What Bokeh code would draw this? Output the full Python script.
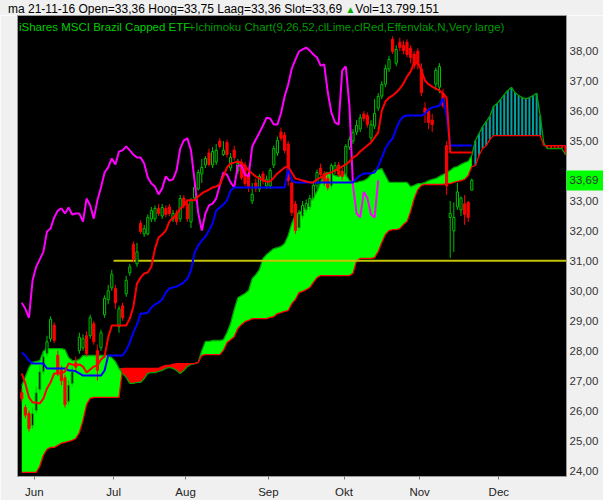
from bokeh.plotting import figure
from bokeh.models import Range1d, FixedTicker, Label, Div
from bokeh.layouts import column
from bokeh.embed import file_html
from bokeh.resources import INLINE

# ---------------- data ----------------
opens = [26.60, 26.10, 25.90, 25.50, 26.00, 26.70, 27.30, 27.90, 28.40, 28.85,
         27.85, 27.35, 27.10, 26.30, 26.90, 27.60, 28.00, 28.10, 28.50, 28.50,
         28.90, 28.00, 28.10, 29.20, 29.70, 30.10, 30.08, 28.80, 29.50, 29.90,
         30.60, 31.55, 30.90, 32.25, 31.90, 31.90, 32.40, 32.40, 32.75, 32.50,
         32.75, 32.80, 32.40, 32.60, 32.40, 33.10, 32.90, 32.30, 33.10, 33.40,
         33.90, 34.20, 34.60, 34.20, 34.30, 35.00, 34.55, 34.95, 34.10, 34.70,
         34.00, 34.30, 34.20, 33.90, 33.00, 33.60, 33.40, 33.90, 33.50, 33.50,
         34.20, 34.60, 35.30, 35.20, 34.90, 33.60, 32.90, 32.10, 32.50, 32.70,
         32.80, 33.10, 33.50, 34.10, 33.90, 33.75, 33.50, 34.00, 34.20, 34.00,
         33.90, 34.80, 35.00, 35.30, 35.40, 35.90, 35.85, 35.10, 35.50, 36.10,
         36.50, 36.90, 37.40, 38.40, 37.60, 38.30, 38.20, 38.30, 38.10, 37.90,
         38.00, 37.40, 36.10, 36.00, 35.70, 36.90, 36.80, 36.60, 34.85, 32.45,
         32.00, 32.80, 32.70, 32.90, 32.95, 33.36]
highs = [26.75, 26.20, 26.00, 26.10, 26.80, 27.50, 28.00, 28.50, 29.15, 28.95,
         28.00, 27.50, 27.20, 27.00, 27.45, 27.80, 28.60, 28.55, 28.65, 29.20,
         29.00, 28.20, 28.70, 29.85, 30.20, 30.70, 30.20, 29.50, 29.60, 30.50,
         30.90, 31.65, 31.60, 32.35, 32.20, 32.55, 32.80, 32.85, 32.90, 32.90,
         32.85, 32.90, 32.70, 32.70, 33.20, 33.20, 33.00, 33.10, 33.55, 34.05,
         34.40, 34.50, 34.75, 34.80, 34.90, 35.10, 35.00, 35.05, 34.60, 34.85,
         34.40, 34.40, 34.30, 34.00, 33.60, 33.75, 33.90, 34.00, 33.85, 34.10,
         34.85, 35.15, 35.45, 35.30, 35.00, 33.75, 33.00, 32.70, 33.00, 33.05,
         33.20, 33.60, 34.05, 34.25, 34.00, 33.85, 34.25, 34.30, 34.30, 34.10,
         34.90, 35.15, 35.40, 35.70, 35.90, 36.00, 35.95, 35.70, 36.40, 36.60,
         37.00, 37.55, 37.85, 38.50, 38.20, 38.45, 38.35, 38.40, 38.20, 38.00,
         38.10, 37.60, 36.30, 36.10, 35.90, 37.45, 37.60, 36.75, 35.00, 33.00,
         32.95, 33.60, 33.15, 33.20, 33.00, 33.75]
lows = [26.30, 25.75, 25.30, 25.40, 25.90, 26.60, 27.20, 27.80, 28.30, 28.25,
        27.15, 26.85, 26.10, 26.20, 26.80, 27.30, 27.90, 28.00, 27.80, 28.40,
        28.20, 27.00, 28.00, 29.10, 29.55, 30.00, 29.40, 28.60, 29.00, 29.80,
        30.50, 30.95, 30.80, 31.90, 31.80, 31.85, 32.30, 32.30, 32.50, 32.40,
        32.45, 32.50, 32.30, 32.20, 32.30, 32.75, 32.30, 32.10, 33.00, 33.35,
        33.60, 34.10, 34.15, 34.10, 34.20, 34.75, 34.50, 34.45, 34.00, 34.35,
        33.90, 33.70, 33.50, 33.30, 32.90, 33.30, 33.30, 33.55, 33.40, 33.40,
        34.10, 34.50, 35.00, 34.60, 33.50, 32.50, 31.90, 32.00, 32.40, 32.60,
        32.70, 33.00, 33.40, 33.80, 33.50, 33.35, 33.40, 33.90, 33.80, 33.70,
        33.80, 34.70, 34.90, 35.20, 35.30, 35.65, 35.45, 35.00, 35.40, 36.00,
        36.40, 36.80, 37.30, 37.90, 37.50, 38.00, 37.90, 37.80, 37.60, 37.40,
        37.40, 36.50, 35.60, 35.40, 35.30, 36.70, 36.60, 36.10, 33.20, 31.10,
        31.30, 32.70, 32.50, 32.20, 32.30, 33.36]
closes = [26.40, 25.85, 25.40, 25.90, 26.60, 27.30, 27.80, 28.30, 29.05, 28.35,
          27.25, 27.00, 26.20, 26.85, 27.30, 27.45, 28.45, 28.40, 27.90, 29.10,
          28.30, 27.35, 28.60, 29.75, 30.00, 30.55, 29.60, 29.40, 29.10, 30.35,
          30.80, 31.05, 31.30, 31.98, 32.08, 32.45, 32.68, 32.75, 32.58, 32.78,
          32.55, 32.58, 32.58, 32.31, 33.08, 32.85, 32.41, 33.02, 33.45, 33.95,
          34.12, 34.42, 34.22, 34.65, 34.69, 34.82, 34.69, 34.55, 34.45, 34.45,
          34.25, 33.78, 33.58, 33.48, 33.22, 33.42, 33.82, 33.68, 33.72, 34.02,
          34.75, 35.02, 35.09, 34.69, 33.68, 32.61, 32.01, 32.58, 32.85, 32.91,
          33.08, 33.52, 33.95, 33.88, 33.62, 33.45, 34.18, 34.18, 33.88, 33.82,
          34.82, 35.05, 35.28, 35.52, 35.78, 35.75, 35.55, 35.55, 35.92, 36.49,
          36.89, 37.42, 37.72, 37.99, 38.06, 38.12, 38.02, 37.89, 37.79, 37.52,
          37.56, 36.62, 35.95, 35.62, 35.55, 37.36, 37.49, 36.19, 33.50, 32.58,
          32.45, 33.30, 33.10, 32.55, 32.45, 33.69]
tenkan = [27.24, 26.90, 26.44, 26.27, 26.27, 26.24, 26.40, 26.74, 26.94, 27.24,
          27.24, 27.24, 27.30, 27.57, 27.54, 27.51, 27.54, 27.47, 27.27, 27.37,
          27.47, 27.51, 27.71, 27.81, 28.44, 28.84, 28.84, 28.84, 28.84, 28.84,
          29.07, 29.47, 30.24, 30.44, 30.58, 30.61, 30.81, 31.41, 31.78, 31.88,
          32.01, 32.31, 32.44, 32.54, 32.75, 32.85, 33.02, 33.02, 33.02, 33.15,
          33.25, 33.32, 33.38, 33.45, 33.48, 33.55, 33.82, 34.12, 34.25, 34.28,
          34.32, 34.25, 34.15, 34.02, 33.92, 33.82, 33.75, 33.68, 33.65, 33.65,
          33.78, 33.92, 34.02, 34.12, 34.15, 33.95, 33.75, 33.72, 33.68, 33.65,
          33.62, 33.62, 33.72, 33.78, 33.85, 33.92, 33.95, 34.02, 34.08, 34.15,
          34.22, 34.32, 34.45, 34.52, 34.65, 34.75, 34.85, 34.95, 35.12, 35.28,
          36.02, 36.32, 36.45, 36.52, 36.62, 36.75, 36.92, 37.15, 37.32, 37.62,
          37.62, 37.36, 37.02, 36.89, 36.82, 36.75, 36.69, 36.59, 36.45, 34.62,
          34.62, 34.62, 34.62, 34.62, 34.62, 34.62]
kijun = [27.94, 27.84, 27.67, 27.57, 27.57, 27.57, 27.57, 27.41, 27.41, 27.41,
         27.41, 27.41, 27.41, 27.34, 27.34, 27.31, 27.24, 27.17, 27.17, 27.17,
         27.17, 27.17, 27.17, 27.34, 27.84, 27.84, 27.84, 27.84, 27.84, 28.01,
         28.27, 28.61, 28.87, 29.24, 29.24, 29.27, 29.44, 29.54, 29.61, 29.71,
         29.94, 30.08, 30.11, 30.14, 30.21, 30.28, 30.41, 30.68, 31.28, 31.51,
         31.68, 31.81, 32.01, 32.25, 32.68, 32.78, 32.88, 33.02, 33.35, 33.45,
         33.45, 33.45, 33.45, 33.45, 33.45, 33.45, 33.45, 33.45, 33.45, 33.45,
         33.45, 33.45, 33.45, 33.45, 34.08, 33.68, 33.62, 33.62, 33.62, 33.62,
         33.62, 33.62, 33.62, 33.62, 33.62, 33.62, 33.62, 33.62, 33.62, 33.62,
         33.62, 33.62, 33.62, 33.75, 33.85, 33.92, 33.92, 33.92, 33.95, 34.15,
         34.45, 34.75, 34.95, 35.08, 35.42, 35.68, 35.82, 35.85, 35.85, 35.85,
         35.85, 35.85, 35.92, 36.05, 36.12, 36.15, 36.18, 36.42, 35.85, 34.85,
         34.85, 34.85, 34.85, 34.85, 34.85, 34.85]
senkou_a = [26.84, 27.14, 27.44, 27.61, 27.64, 27.67, 27.97, 28.07, 28.07, 28.07,
            28.07, 28.07, 28.04, 27.77, 27.67, 27.67, 27.71, 27.84, 27.84, 27.84,
            27.84, 27.84, 27.84, 27.84, 27.84, 27.77, 27.64, 27.41, 27.24, 27.11,
            26.91, 26.91, 26.94, 26.94, 27.07, 27.24, 27.27, 27.27, 27.31, 27.34,
            27.41, 27.44, 27.41, 27.34, 27.24, 27.34, 27.47, 27.54, 27.57, 27.61,
            28.01, 28.31, 28.31, 28.34, 28.34, 28.34, 28.37, 28.61, 28.91, 29.37,
            29.77, 29.84, 29.91, 30.01, 30.41, 30.54, 30.71, 31.08, 31.21, 31.31,
            31.41, 31.44, 31.48, 31.58, 31.85, 32.25, 32.55, 32.61, 32.68, 32.81,
            32.98, 33.11, 33.32, 33.62, 33.92, 33.95, 33.92, 33.85, 33.82, 33.88,
            33.88, 33.68, 33.62, 33.62, 33.65, 33.68, 33.75, 33.88, 34.02, 34.05,
            34.08, 33.85, 33.62, 33.62, 33.62, 33.62, 33.62, 33.62, 33.48, 33.52,
            33.58, 33.58, 33.62, 33.68, 33.72, 33.75, 33.82, 33.88, 33.95, 34.02,
            34.12, 34.15, 34.22, 34.28, 34.32, 34.52, 35.02, 35.25, 35.48, 35.65,
            35.82, 36.15, 36.25, 36.39, 36.55, 36.69, 36.79, 36.62, 36.52, 36.45,
            36.42, 36.45, 36.52, 36.59, 35.85, 34.92, 34.75, 34.75, 34.75, 34.75,
            34.75, 34.55]
senkou_b = [23.94, 23.94, 23.94, 23.94, 23.94, 24.14, 24.51, 24.71, 24.77, 24.77,
            24.84, 24.91, 24.94, 24.97, 25.01, 25.07, 25.27, 25.67, 26.21, 26.41,
            26.44, 26.44, 26.44, 26.44, 26.44, 26.44, 26.44, 26.44, 27.41, 27.41,
            27.41, 27.41, 27.41, 27.41, 27.41, 27.41, 27.41, 27.41, 27.41, 27.47,
            27.51, 27.51, 27.54, 27.57, 27.57, 27.57, 27.57, 27.57, 27.57, 27.61,
            27.84, 27.87, 27.87, 27.87, 27.87, 27.87, 28.01, 28.27, 28.37, 28.47,
            28.74, 28.87, 28.97, 29.01, 29.07, 29.07, 29.07, 29.07, 29.07, 29.11,
            29.14, 29.24, 29.27, 29.31, 29.34, 29.57, 29.71, 29.94, 29.98, 30.04,
            30.11, 30.28, 30.44, 30.51, 30.51, 30.51, 30.51, 30.51, 30.51, 30.51,
            30.51, 30.51, 30.58, 31.01, 31.08, 31.08, 31.08, 31.08, 31.11, 31.31,
            31.61, 31.88, 32.01, 32.04, 32.04, 32.08, 32.21, 32.31, 32.65, 33.08,
            33.38, 33.52, 33.55, 33.55, 33.55, 33.55, 33.55, 33.55, 33.58, 33.58,
            33.62, 33.65, 33.68, 33.72, 33.85, 34.15, 34.18, 34.52, 34.75, 34.85,
            35.05, 35.18, 35.18, 35.18, 35.18, 35.18, 35.18, 35.18, 35.18, 35.18,
            35.18, 35.18, 35.18, 35.18, 35.18, 34.85, 34.85, 34.85, 34.85, 34.85,
            34.85, 34.85]
chikou_shift = 26
month_ticks = [3.5, 25.5, 45.5, 68.5, 89.5, 110.5, 132.5]
month_labels = ["Jun", "Jul", "Aug", "Sep", "Okt", "Nov", "Dec"]
price_ticks = [24, 25, 26, 27, 28, 29, 30, 31, 32, 33, 34, 35, 36, 37, 38]
hline_level = 31.0
hline_start = 25.5
last_price = 33.69
header_text = "ma 21-11-16 Open=33,36 Hoog=33,75 Laag=33,36 Slot=33,69"
header_vol = "Vol=13.799.151"
title_main = "iShares MSCI Brazil Capped ETF"
title_ind = "+Ichimoku Chart(9,26,52,clLime,clRed,Effenvlak,N,Very large)"

# ---------------- styling ----------------
FONT = "Liberation Sans"
FW, FH = 549, 461
X0, X1 = -1.19, 151.3
GREEN_UP = "#00c000"
RED = "#ff0000"
BOX_W = 38


def fmt(v):
    return ("%.2f" % v).replace(".", ",")


p = figure(frame_width=FW, frame_height=FH, x_range=Range1d(X0, X1),
           y_range=Range1d(23.80, 39.192), y_axis_location="right",
           output_backend="svg", toolbar_location=None, title=None,
           min_border_left=17, min_border_top=0, min_border_bottom=24,
           min_border_right=37, margin=0)
p.background_fill_color = "black"
p.border_fill_color = "#f0f0f0"
p.outline_line_color = "#9a9a9a"
p.xgrid.visible = False
p.ygrid.visible = False

p.xaxis.ticker = FixedTicker(ticks=month_ticks)
p.xaxis.major_label_overrides = {t: l for t, l in zip(month_ticks, month_labels)}
p.xaxis.axis_line_color = None
p.xaxis.minor_tick_line_color = None
p.xaxis.major_tick_in = 0
p.xaxis.major_tick_out = 3
p.xaxis.major_tick_line_color = "#777777"
p.xaxis.major_label_standoff = 6
p.xaxis.major_label_text_font = FONT
p.xaxis.major_label_text_font_size = "11.5px"
p.xaxis.major_label_text_color = "#222222"

# right price axis; the last price is marked by a wide lime minor tick
p.yaxis.ticker = FixedTicker(ticks=price_ticks + [last_price], minor_ticks=[last_price])
overrides = {t: fmt(t) for t in price_ticks}
overrides[34] = ""
overrides[last_price] = fmt(last_price)
p.yaxis.major_label_overrides = overrides
p.yaxis.axis_line_color = None
p.yaxis.major_tick_line_color = None
p.yaxis.major_tick_in = 0
p.yaxis.major_tick_out = 0
p.yaxis.minor_tick_in = 0
p.yaxis.minor_tick_out = BOX_W
p.yaxis.minor_tick_line_width = 20
p.yaxis.minor_tick_line_color = "#00ff00"
p.yaxis.major_label_standoff = 3 - BOX_W
p.yaxis.major_label_text_font = FONT
p.yaxis.major_label_text_font_size = "11.5px"
p.yaxis.major_label_text_color = "#333333"

n = len(closes)
idx = list(range(n))
cloud_x = list(range(len(senkou_a)))

# past cloud (filled)
top = [max(a, b) for a, b in zip(senkou_a, senkou_b)]
p.varea(x=idx, y1=senkou_b[:n], y2=top[:n], fill_color="#00ff00")
p.varea(x=idx, y1=senkou_a[:n], y2=top[:n], fill_color=RED)

# future cloud (hatched)
fut = cloud_x[n:]
p.segment(x0=fut, y0=senkou_a[n:], x1=fut, y1=senkou_b[n:],
          line_color=["#00a0a0" if senkou_a[i] >= senkou_b[i] else RED for i in fut],
          line_width=2)
p.line(cloud_x, senkou_a, line_color="#00a000", line_width=1.3)
p.line(cloud_x, senkou_b, line_color=RED, line_width=1.3)

# horizontal level line
p.segment(x0=[hline_start], y0=[hline_level], x1=[X1], y1=[hline_level],
          line_color="#c4c400", line_width=2)

# candles
up = [c >= o for o, c in zip(opens, closes)]
col = [GREEN_UP if u else RED for u in up]
p.segment(x0=idx, y0=lows, x1=idx, y1=highs, line_color=col, line_width=1)
p.vbar(x=idx, width=0.6, top=[max(o, c) for o, c in zip(opens, closes)],
       bottom=[min(o, c) for o, c in zip(opens, closes)],
       fill_color=["black" if u else RED for u in up], line_color=col, line_width=1)

# ichimoku lines
p.line(list(range(n - chikou_shift)), closes[chikou_shift:], line_color="#ff00ff", line_width=2)
p.line(idx, kijun, line_color="#0000ff", line_width=2)
p.line(idx, tenkan, line_color=RED, line_width=2)

# inner title (inside the frame)
p.add_layout(Label(x=1.5, y=FH - 11, x_units="screen", y_units="screen", text=title_main,
                   text_font=FONT, text_font_size="11.5px", text_color="#00cc00",
                   text_baseline="alphabetic"))
p.add_layout(Label(x=171, y=FH - 11, x_units="screen", y_units="screen", text=title_ind,
                   text_font=FONT, text_font_size="11.5px", text_color="#009a00",
                   text_baseline="alphabetic"))

# header line above the chart
header = Div(
    text=(header_text + ' <span style="color:#00b000;font-size:10px">&#9650;</span>' + header_vol),
    width=603, height=15, margin=0,
    styles={"font-family": "'Liberation Sans', sans-serif", "font-size": "12px",
            "line-height": "12px", "color": "black", "padding-left": "8px",
            "padding-top": "3px", "box-sizing": "border-box",
            "white-space": "nowrap", "background-color": "#f0f0f0", "overflow": "hidden"})

layout = column(header, p, spacing=0, margin=0)
open("out.html", "w").write(file_html(layout, INLINE))
